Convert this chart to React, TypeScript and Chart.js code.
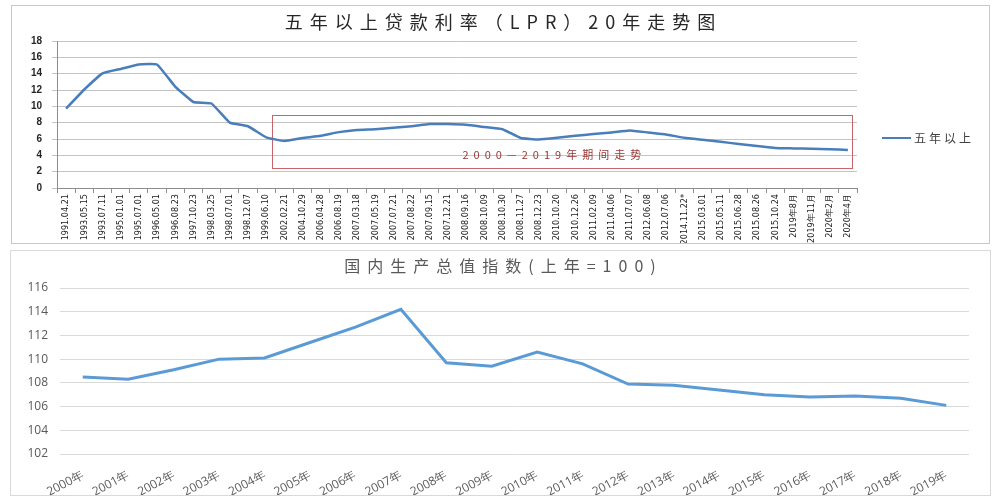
import React, { useEffect, useRef } from "react";
import { Chart, registerables } from "chart.js";
Chart.register(...registerables);

// ---------- Data: top chart (5y+ loan rate) ----------
const lprDates = [
  "1991.04.21", "1993.05.15", "1993.07.11", "1995.01.01", "1995.07.01", "1996.05.01",
  "1996.08.23", "1997.10.23", "1998.03.25", "1998.07.01", "1998.12.07", "1999.06.10",
  "2002.02.21", "2004.10.29", "2006.04.28", "2006.08.19", "2007.03.18", "2007.05.19",
  "2007.07.21", "2007.08.22", "2007.09.15", "2007.12.21", "2008.09.16", "2008.10.09",
  "2008.10.30", "2008.11.27", "2008.12.23", "2010.10.20", "2010.12.26", "2011.02.09",
  "2011.04.06", "2011.07.07", "2012.06.08", "2012.07.06", "2014.11.22*", "2015.03.01",
  "2015.05.11", "2015.06.28", "2015.08.26", "2015.10.24", "2019年8月", "2019年11月",
  "2020年2月", "2020年4月",
];
const lprRates = [
  9.72, 12.06, 14.04, 14.58, 15.12, 15.12,
  12.42, 10.53, 10.35, 8.01, 7.56, 6.21,
  5.76, 6.12, 6.39, 6.84, 7.11, 7.2,
  7.38, 7.56, 7.83, 7.83, 7.74, 7.47,
  7.2, 6.12, 5.94, 6.14, 6.4, 6.6,
  6.8, 7.05, 6.8, 6.55, 6.15, 5.9,
  5.65, 5.4, 5.15, 4.9, 4.85, 4.8,
  4.75, 4.65,
];
const lprTitle = "五年以上贷款利率（LPR）20年走势图";
const lprSeriesName = "五年以上";
const periodNote = "2000—2019年期间走势";
// highlighted period: [x from (category index), x to, y top, y bottom]
const periodBox = [11.33, 43.23, 9, 2.5];
const periodNotePos = [21.8, 4.05];

// ---------- Data: bottom chart (GDP index) ----------
const gdpYears = [
  "2000年", "2001年", "2002年", "2003年", "2004年", "2005年", "2006年", "2007年", "2008年", "2009年",
  "2010年", "2011年", "2012年", "2013年", "2014年", "2015年", "2016年", "2017年", "2018年", "2019年",
];
const gdpIndex = [
  108.5, 108.3, 109.1, 110.0, 110.1, 111.4, 112.7, 114.2, 109.7, 109.4,
  110.6, 109.6, 107.9, 107.8, 107.4, 107.0, 106.8, 106.9, 106.7, 106.1,
];
const gdpTitle = "国内生产总值指数(上年=100)";

const CJK = '"Noto Sans CJK SC", "Noto Sans", sans-serif';

function TopChart() {
  const ref = useRef<HTMLCanvasElement>(null);
  useEffect(() => {
    const canvas = ref.current!;
    const decor = {
      id: "lprDecor",
      beforeDatasetsDraw(chart: any) {
        const { ctx, scales } = chart;
        const x = scales.x, y = scales.y;
        ctx.save();
        const x0 = x.getPixelForValue(periodBox[0]);
        const x1 = x.getPixelForValue(periodBox[1]);
        const y0 = y.getPixelForValue(periodBox[2]);
        const y1 = y.getPixelForValue(periodBox[3]);
        ctx.strokeStyle = "#C8646A";
        ctx.lineWidth = 1;
        ctx.strokeRect(Math.round(x0) + 0.5, Math.round(y0) + 0.5, Math.round(x1 - x0), Math.round(y1 - y0));
        ctx.font = `11px ${CJK}`;
        (ctx as any).letterSpacing = "5px";
        ctx.fillStyle = "#943634";
        ctx.textAlign = "left";
        ctx.textBaseline = "middle";
        ctx.fillText(periodNote, x.getPixelForValue(periodNotePos[0]), y.getPixelForValue(periodNotePos[1]));
        ctx.restore();
      },
      afterDraw(chart: any) {
        const { ctx, chartArea } = chart;
        ctx.save();
        ctx.font = `18px ${CJK}`;
        (ctx as any).letterSpacing = "7px";
        ctx.fillStyle = "#262626";
        ctx.textAlign = "center";
        ctx.textBaseline = "middle";
        ctx.fillText(lprTitle, chart.width / 2 + 3, 16);
        // legend
        const ds = chart.data.datasets[0];
        const ly = chartArea.top + 97;
        const lx = chartArea.right + 25;
        ctx.strokeStyle = ds.borderColor;
        ctx.lineWidth = 2;
        ctx.beginPath();
        ctx.moveTo(lx, ly);
        ctx.lineTo(lx + 29, ly);
        ctx.stroke();
        ctx.font = `12px ${CJK}`;
        (ctx as any).letterSpacing = "3px";
        ctx.fillStyle = "#404040";
        ctx.textAlign = "left";
        ctx.fillText(ds.label, lx + 32, ly);
        ctx.restore();
      },
    };
    const chart = new Chart(canvas, {
      type: "line",
      data: {
        labels: lprDates,
        datasets: [
          {
            label: lprSeriesName,
            data: lprRates,
            borderColor: "#4A7EBB",
            backgroundColor: "#4A7EBB",
            borderWidth: 2.5,
            pointRadius: 0,
            tension: 0.1,
          },
        ],
      },
      options: {
        responsive: false,
        animation: false,
        layout: { padding: { top: 35, right: 132, left: 0, bottom: 0 } },
        plugins: { legend: { display: false }, title: { display: false }, tooltip: { enabled: false } },
        scales: {
          x: {
            offset: true,
            afterFit: (s: any) => { s.height = 55; },
            grid: { offset: true, drawOnChartArea: false, drawTicks: true, tickLength: 5, color: "#8c8c8c" },
            border: { display: true, color: "#8c8c8c" },
            ticks: {
              autoSkip: false,
              minRotation: 90,
              maxRotation: 90,
              padding: 1,
              color: "#1a1a1a",
              font: { family: '"Liberation Sans Narrow", "DejaVu Sans Condensed", "Liberation Sans", sans-serif', size: 9 },
            },
          },
          y: {
            min: 0,
            max: 18,
            afterFit: (s: any) => { s.width = 45; },
            grid: { color: "#c4c4c4", drawTicks: true, tickLength: 5 },
            border: { display: true, color: "#8c8c8c" },
            ticks: {
              stepSize: 2,
              padding: 10,
              color: "#262626",
              font: { family: '"Liberation Sans", Arial, sans-serif', size: 10, weight: "bold" },
            },
          },
        },
      },
      plugins: [decor],
    });
    return () => chart.destroy();
  }, []);
  return <canvas ref={ref} width={977} height={237} style={{ display: "block" }} />;
}

function BottomChart() {
  const ref = useRef<HTMLCanvasElement>(null);
  useEffect(() => {
    const canvas = ref.current!;
    const decor = {
      id: "gdpDecor",
      afterDraw(chart: any) {
        const { ctx } = chart;
        ctx.save();
        ctx.font = `16px ${CJK}`;
        (ctx as any).letterSpacing = "7px";
        ctx.fillStyle = "#595959";
        ctx.textAlign = "center";
        ctx.textBaseline = "middle";
        ctx.fillText(gdpTitle, chart.width / 2 + 3, 15);
        ctx.restore();
      },
    };
    const chart = new Chart(canvas, {
      type: "line",
      data: {
        labels: gdpYears,
        datasets: [
          {
            label: gdpTitle,
            data: gdpIndex,
            borderColor: "#5B9BD5",
            backgroundColor: "#5B9BD5",
            borderWidth: 3,
            pointRadius: 0,
            tension: 0,
          },
        ],
      },
      options: {
        responsive: false,
        animation: false,
        layout: { padding: { top: 37, right: 21, left: 0, bottom: 0 } },
        plugins: { legend: { display: false }, title: { display: false }, tooltip: { enabled: false } },
        scales: {
          x: {
            offset: true,
            afterFit: (s: any) => { s.height = 41; },
            grid: { display: false },
            border: { display: false },
            ticks: {
              autoSkip: false,
              minRotation: 28,
              maxRotation: 28,
              padding: 6,
              color: "#595959",
              font: { family: '"Open Sans", "Liberation Sans", sans-serif', size: 12 },
            },
          },
          y: {
            min: 102,
            max: 116,
            afterFit: (s: any) => { s.width = 49; },
            grid: { color: "#d9d9d9", drawTicks: false, lineWidth: 1 },
            border: { display: false },
            ticks: {
              stepSize: 2,
              padding: 12,
              color: "#595959",
              font: { family: '"Open Sans", "Liberation Sans", sans-serif', size: 12 },
            },
          },
        },
      },
      plugins: [decor],
    });
    return () => chart.destroy();
  }, []);
  return <canvas ref={ref} width={979} height={244} style={{ display: "block" }} />;
}

export default function App() {
  return (
    <div style={{ position: "absolute", left: 0, top: 0, width: 1000, height: 500, background: "#fff" }}>
      <div
        style={{
          position: "absolute", left: 11, top: 5, width: 979, height: 239,
          border: "1px solid #b9cdd6", boxSizing: "border-box",
        }}
      >
        <TopChart />
      </div>
      <div
        style={{
          position: "absolute", left: 10, top: 250, width: 981, height: 246,
          border: "1px solid #d9d9d9", boxSizing: "border-box",
        }}
      >
        <BottomChart />
      </div>
    </div>
  );
}
